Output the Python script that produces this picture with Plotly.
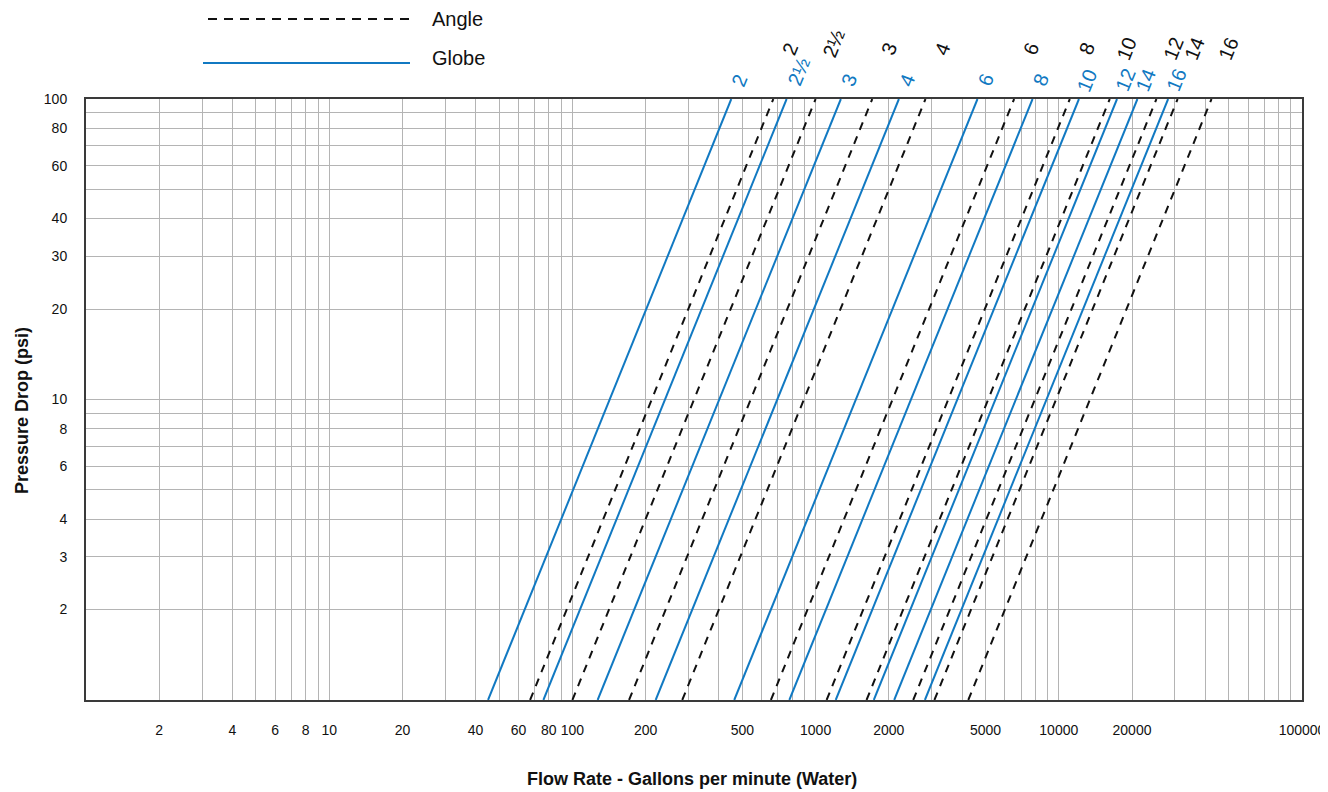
import math
import plotly.graph_objects as go

# ---- data ----
sizes = ["2", "2½", "3", "4", "6", "8", "10", "12", "14", "16"]
# flow (gpm) at 1 psi and at 100 psi
globe_flow_1psi = [45, 76, 127, 220, 463, 780, 1210, 1735, 2105, 2815]
globe_flow_100psi = [450, 760, 1270, 2200, 4630, 7800, 12100, 17350, 21050, 28150]
angle_flow_1psi = [67, 100, 171, 283, 655, 1110, 1620, 2520, 3080, 4245]
angle_flow_100psi = [670, 1000, 1710, 2830, 6550, 11100, 16200, 25200, 30800, 42450]
pressure_ends = [1, 100]

x_tickvals = [2, 4, 6, 8, 10, 20, 40, 60, 80, 100, 200, 500, 1000, 2000, 5000, 10000, 20000, 100000]
y_tickvals = [2, 3, 4, 6, 8, 10, 20, 30, 40, 60, 80, 100]

BLUE = "#1179c2"
BLACK = "#111111"
GRID = "#b4b4b4"
FONT = "Liberation Sans Narrow, Liberation Sans, Arial, sans-serif"
LFONT = "Liberation Sans, Arial, sans-serif"

fig = go.Figure()

for name, f1, f100 in zip(sizes, angle_flow_1psi, angle_flow_100psi):
    fig.add_trace(go.Scatter(x=[f1, f100], y=pressure_ends, mode="lines",
                             line=dict(color=BLACK, width=2, dash="8px,7px"),
                             name="Angle " + name, showlegend=False, hoverinfo="skip"))
for name, f1, f100 in zip(sizes, globe_flow_1psi, globe_flow_100psi):
    fig.add_trace(go.Scatter(x=[f1, f100], y=pressure_ends, mode="lines",
                             line=dict(color=BLUE, width=2),
                             name="Globe " + name, showlegend=False, hoverinfo="skip"))

minor_vals = [m * 10 ** d for d in range(0, 5) for m in range(2, 10)]
minor_y = [m * 10 ** d for d in range(0, 2) for m in range(2, 10)]

fig.update_xaxes(type="log", range=[0, 5], tickvals=x_tickvals,
                 ticktext=[str(v) for v in x_tickvals], automargin=False,
                 ticks="outside", ticklen=16, tickcolor="rgba(0,0,0,0)",
                 showgrid=True, gridcolor=GRID, gridwidth=1,
                 minor=dict(tickvals=minor_vals + [10, 100, 1000, 10000], showgrid=True,
                            gridcolor=GRID, gridwidth=1, ticks=""),
                 showline=True, mirror=True, linecolor="#3a3a3a", linewidth=2,
                 tickfont=dict(family=FONT, size=14, color="#111"), zeroline=False)
fig.update_yaxes(type="log", range=[0, 2], tickvals=y_tickvals,
                 ticktext=[str(v) for v in y_tickvals], automargin=False,
                 ticks="outside", ticklen=14, tickcolor="rgba(0,0,0,0)",
                 showgrid=True, gridcolor=GRID, gridwidth=1,
                 minor=dict(tickvals=minor_y + [10], showgrid=True,
                            gridcolor=GRID, gridwidth=1, ticks=""),
                 showline=True, mirror=True, linecolor="#3a3a3a", linewidth=2,
                 tickfont=dict(family=FONT, size=14, color="#111"), zeroline=False)

annotations = []

def label_x(f1, f100, ylog):
    a, b = math.log10(f1), math.log10(f100)
    return a + (b - a) * ylog / 2.0

for name, f1, f100 in zip(sizes, globe_flow_1psi, globe_flow_100psi):
    ylog = 2.09 if not name.isdigit() else 2.062
    annotations.append(dict(x=label_x(f1, f100, ylog), y=ylog / 2.0, xref="x", yref="paper",
                            text=name, showarrow=False, textangle=-68, xshift=1,
                            xanchor="center", yanchor="middle",
                            font=dict(family=LFONT, size=20, color=BLUE)))
for name, f1, f100 in zip(sizes, angle_flow_1psi, angle_flow_100psi):
    ylog = 2.185 if not name.isdigit() else 2.168
    annotations.append(dict(x=label_x(f1, f100, ylog), y=ylog / 2.0, xref="x", yref="paper",
                            text=name, showarrow=False, textangle=-68, xshift=-4,
                            xanchor="center", yanchor="middle",
                            font=dict(family=LFONT, size=20, color=BLACK)))

# axis titles
annotations.append(dict(x=(22 - 86) / 1216, y=(700 - 411) / 601, xref="paper", yref="paper",
                        text="<b>Pressure Drop (psi)</b>",
                        showarrow=False, textangle=-90, xanchor="center", yanchor="middle",
                        font=dict(family=FONT, size=18, color="#111")))
annotations.append(dict(x=(692 - 86) / 1216, y=(700 - 779) / 601, xref="paper", yref="paper",
                        text="<b>Flow Rate - Gallons per minute (Water)</b>", showarrow=False,
                        xanchor="center", yanchor="middle",
                        font=dict(family=FONT, size=18, color="#111")))

# legend
annotations.append(dict(x=(430 - 86) / 1216, y=(700 - 19) / 601, xref="paper", yref="paper",
                        text="Angle", showarrow=False, xanchor="left", yanchor="middle",
                        font=dict(family=FONT, size=20, color="#111")))
annotations.append(dict(x=(430 - 86) / 1216, y=(700 - 58) / 601, xref="paper", yref="paper",
                        text="Globe", showarrow=False, xanchor="left", yanchor="middle",
                        font=dict(family=FONT, size=20, color="#111")))

shapes = [
    dict(type="line", xref="paper", yref="paper", x0=(208 - 86) / 1216, x1=(410 - 86) / 1216,
         y0=(700 - 19) / 601, y1=(700 - 19) / 601, line=dict(color=BLACK, width=2, dash="9px,7px")),
    dict(type="line", xref="paper", yref="paper", x0=(203 - 86) / 1216, x1=(410 - 86) / 1216,
         y0=(700 - 63) / 601, y1=(700 - 63) / 601, line=dict(color=BLUE, width=2)),
]

# page body has an 8px margin, so the figure is 8px smaller and margins reduced by 8
fig.update_layout(width=1320, height=784, margin=dict(l=78, r=26, t=91, b=92),
                  paper_bgcolor="white", plot_bgcolor="white",
                  annotations=annotations, shapes=shapes, showlegend=False)

fig.write_html("out.html")
